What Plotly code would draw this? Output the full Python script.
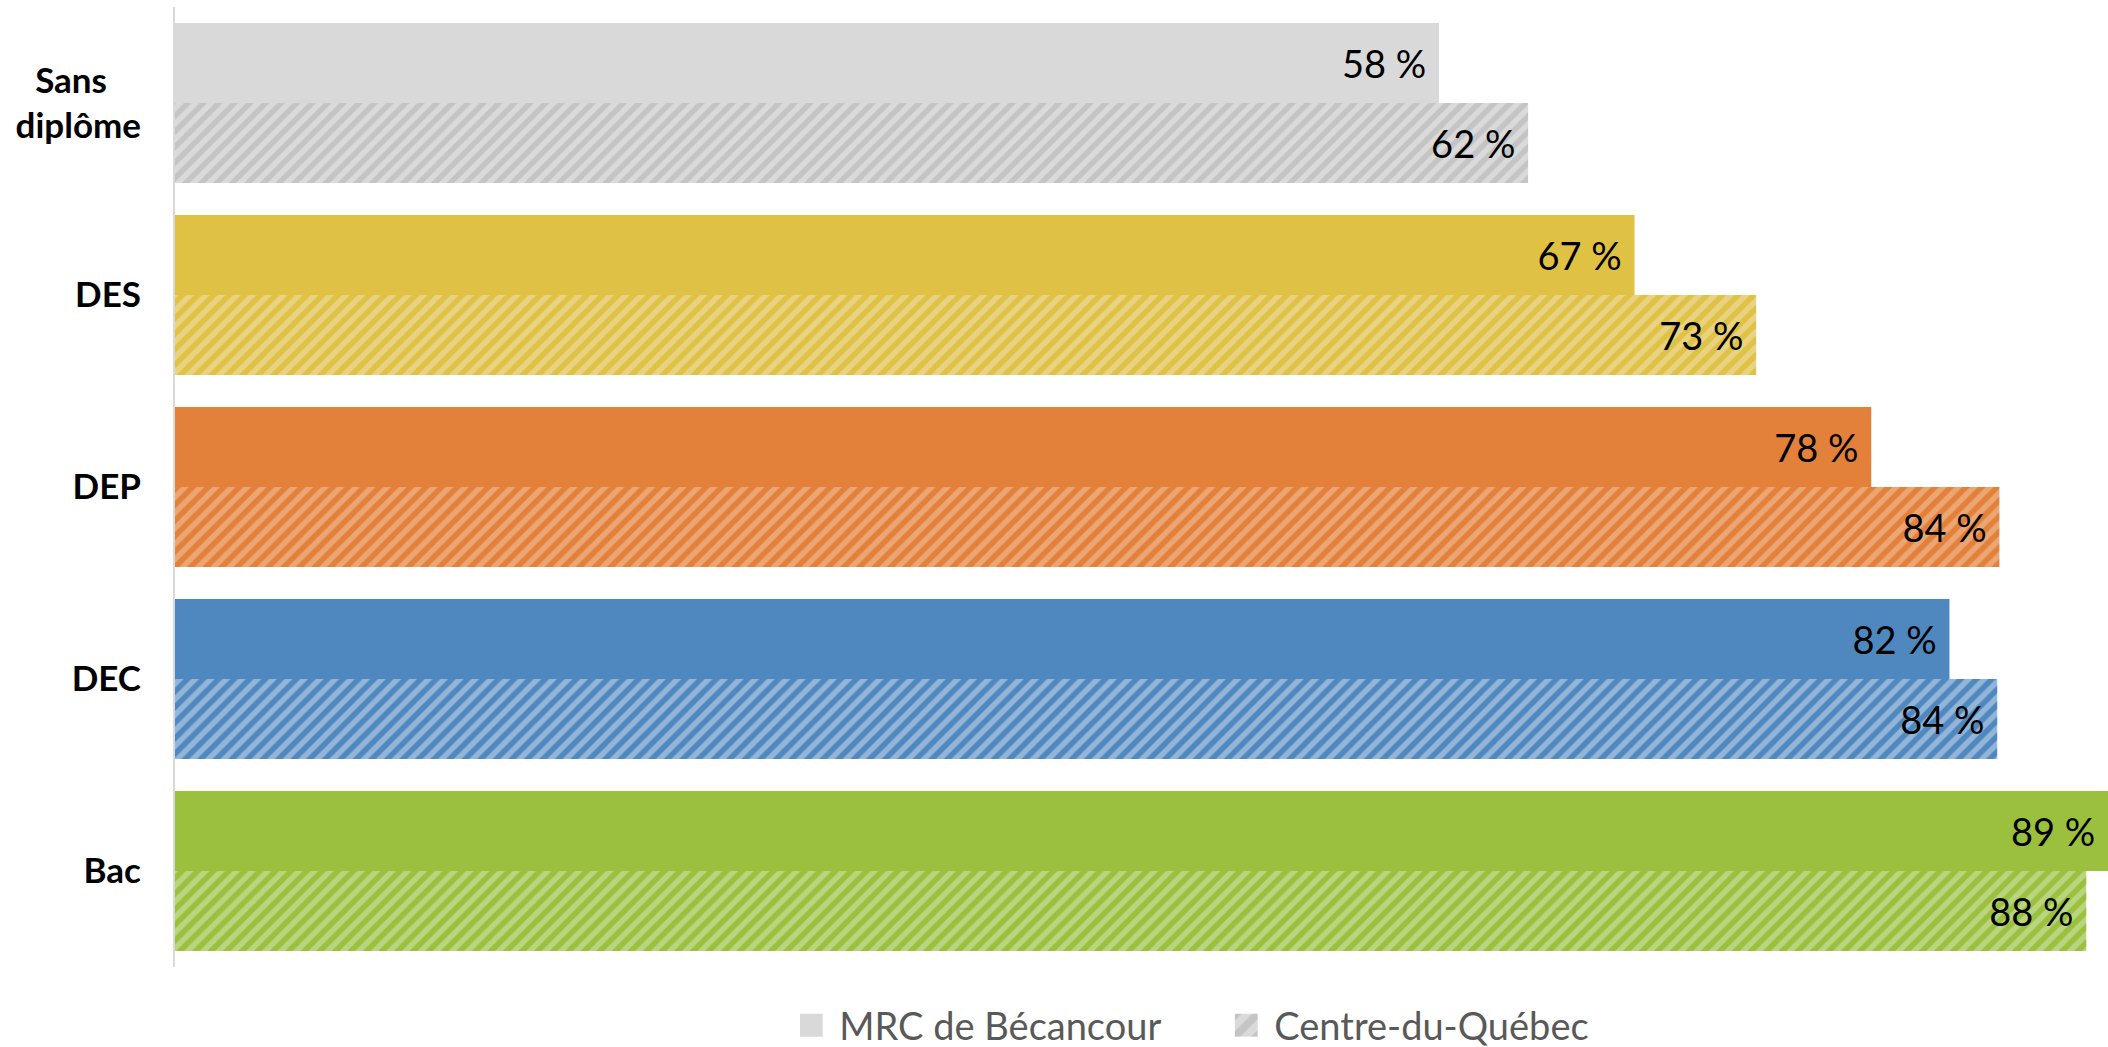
import plotly.graph_objects as go

categories = ["Sans diplôme", "DES", "DEP", "DEC", "Bac"]
tick_text = ["Sans\u00a0\u00a0\u00a0\u00a0<br>diplôme", "DES", "DEP", "DEC", "Bac"]
mrc_values = [58.2, 67.2, 78.1, 81.7, 89.0]
cdq_values = [62.3, 72.8, 84.0, 83.9, 88.0]
series_names = ["MRC de Bécancour", "Centre-du-Québec"]

solid_colors = ["#D9D9D9", "#DFC244", "#E3803A", "#4F88BF", "#9BC03E"]
hatch_bg = ["#DADADA", "#E9D383", "#ECA673", "#93B5D8", "#B9D57D"]
hatch_fg = ["#C4C4C4", "#DFC244", "#E3803A", "#4F88BF", "#9BC03E"]

FONT = "Lato"

def lab(v):
    return f"{round(v)} %\u00a0"

fig = go.Figure()
for i, cat in enumerate(categories):
    fig.add_trace(go.Bar(
        y=[cat], x=[mrc_values[i]], orientation="h", name=series_names[0],
        offsetgroup="mrc", legendgroup="mrc", showlegend=(i == 0), legendrank=1,
        marker=dict(color=solid_colors[i], line=dict(width=0)),
        text=[lab(mrc_values[i])], textposition="inside", insidetextanchor="end",
        textangle=0, textfont=dict(family=FONT, size=38, color="#000000"),
        hoverinfo="skip",
    ))
    fig.add_trace(go.Bar(
        y=[cat], x=[cdq_values[i]], orientation="h", name=series_names[1],
        offsetgroup="cdq", legendgroup="cdq", showlegend=(i == 0), legendrank=2,
        marker=dict(color=hatch_fg[i], line=dict(width=0),
                    pattern=dict(shape="/", bgcolor=hatch_bg[i], fgcolor=hatch_fg[i],
                                 size=11, solidity=0.5, fillmode="replace")),
        text=[lab(cdq_values[i])], textposition="inside", insidetextanchor="end",
        textangle=0, textfont=dict(family=FONT, size=38, color="#000000"),
        hoverinfo="skip",
    ))

fig.update_layout(
    width=2108, height=1047, autosize=False,
    margin=dict(l=175, r=0, t=7, b=80, pad=0, autoexpand=False),
    paper_bgcolor="white", plot_bgcolor="white",
    barmode="group", bargap=0.1667, bargroupgap=0,
    font=dict(family=FONT, color="#000000"),
    uniformtext=dict(minsize=38, mode="show"),
    legend=dict(orientation="h", x=0.548, xanchor="center", y=-0.061, yanchor="middle",
                font=dict(family=FONT, size=38, color="#595959"),
                bgcolor="rgba(0,0,0,0)", entrywidth=390),
    xaxis=dict(range=[0, 89], visible=False, showgrid=False, zeroline=False, fixedrange=True),
    yaxis=dict(type="category", categoryorder="array", categoryarray=categories,
               autorange="reversed", showline=True, linecolor="#D9D9D9",
               linewidth=2, showgrid=False, zeroline=False, ticks="",
               tickmode="array", tickvals=categories, ticktext=tick_text,
               tickfont=dict(family=FONT, size=35, color="#000000", weight="bold"),
               ticklabelstandoff=25, fixedrange=True),
)

post = """
document.body.style.margin='0';
document.body.style.overflow='hidden';
var gd=document.getElementById('{plot_id}');
gd.querySelectorAll('.legendpoints path').forEach(function(p){p.setAttribute('transform','translate(12,0) scale(1.9)');});
"""

fig.write_html("out.html", config=dict(displayModeBar=False), post_script=post)
